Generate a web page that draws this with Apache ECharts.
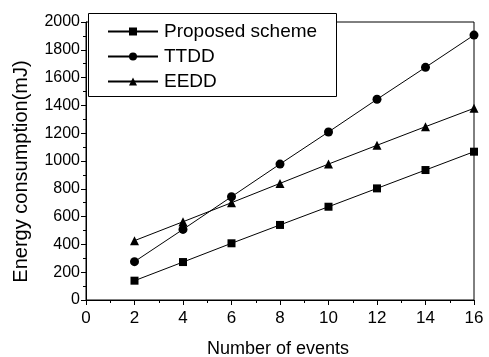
<!DOCTYPE html>
<html>
<head>
<meta charset="utf-8">
<script src="https://cdn.jsdelivr.net/npm/echarts@6/dist/echarts.min.js"></script>
<style>
  html, body { margin: 0; padding: 0; background: #fff; }
  #chart { width: 489px; height: 357px; }
</style>
</head>
<body>
<div id="chart"></div>
<script>
// Number of events on the x axis
const events = [2, 4, 6, 8, 10, 12, 14, 16];
// Energy consumption (mJ) for each scheme
const proposed = [139, 273, 408, 540, 671, 803, 935, 1067];
const ttdd = [276, 508, 743, 978, 1209, 1444, 1674, 1906];
const eedd = [427, 563, 700, 839, 978, 1113, 1247, 1379];

const font = 'Liberation Sans, Arial, sans-serif';
const pairs = (ys) => events.map((x, i) => [x, ys[i]]);

const lineSeries = (name, ys, symbol, size) => ({
  name: name,
  type: 'line',
  data: pairs(ys),
  symbol: symbol,
  symbolSize: size,
  lineStyle: { color: '#000', width: 1 },
  itemStyle: { color: '#000' },
  emphasis: { disabled: true },
  animation: false
});

const chart = echarts.init(document.getElementById('chart'), null, { renderer: 'canvas' });
chart.setOption({
  backgroundColor: '#fff',
  animation: false,
  grid: {
    left: 86, right: 15, top: 22, bottom: 57,
    outerBoundsMode: 'none',
    containLabel: false,
    show: true, borderColor: '#000', borderWidth: 1
  },
  // frame around the legend
  graphic: [{
    type: 'rect',
    left: 88, top: 13,
    shape: { width: 248, height: 83 },
    style: { fill: '#fff', stroke: '#000', lineWidth: 1 },
    z: 4
  }],
  legend: {
    orient: 'vertical',
    left: 107, top: 22,
    itemWidth: 50, itemHeight: 10, itemGap: 6,
    padding: 0,
    z: 5,
    textStyle: { fontFamily: font, fontSize: 19, color: '#000', padding: [0, 0, 0, 1] },
    data: ['Proposed scheme', 'TTDD', 'EEDD']
  },
  xAxis: {
    type: 'value',
    min: 0, max: 16, interval: 2,
    name: 'Number of events',
    nameLocation: 'middle', nameGap: 40,
    nameTextStyle: { fontFamily: font, fontSize: 18, color: '#000', padding: [0, 4, 0, 0] },
    axisLine: { lineStyle: { color: '#000', width: 1 } },
    axisTick: { length: 5, lineStyle: { color: '#000' } },
    minorTick: { show: true, splitNumber: 2, length: 3, lineStyle: { color: '#000' } },
    splitLine: { show: false },
    axisLabel: { fontFamily: font, fontSize: 17, color: '#000', margin: 10 }
  },
  yAxis: {
    type: 'value',
    min: 0, max: 2000, interval: 200,
    name: 'Energy consumption(mJ)',
    nameLocation: 'middle', nameGap: 55,
    nameTextStyle: { fontFamily: font, fontSize: 20, color: '#000', padding: [0, 21, 0, 0] },
    axisLine: { show: true, lineStyle: { color: '#000', width: 1 } },
    axisTick: { show: true, length: 5, lineStyle: { color: '#000' } },
    minorTick: { show: true, splitNumber: 2, length: 3, lineStyle: { color: '#000' } },
    splitLine: { show: false },
    axisLabel: {
      fontFamily: font, fontSize: 16, color: '#000', margin: 6,
      formatter: (v) => String(v)
    }
  },
  series: [
    lineSeries('Proposed scheme', proposed, 'rect', 8),
    lineSeries('TTDD', ttdd, 'circle', 9),
    lineSeries('EEDD', eedd, 'triangle', 9)
  ]
});
</script>
</body>
</html>
